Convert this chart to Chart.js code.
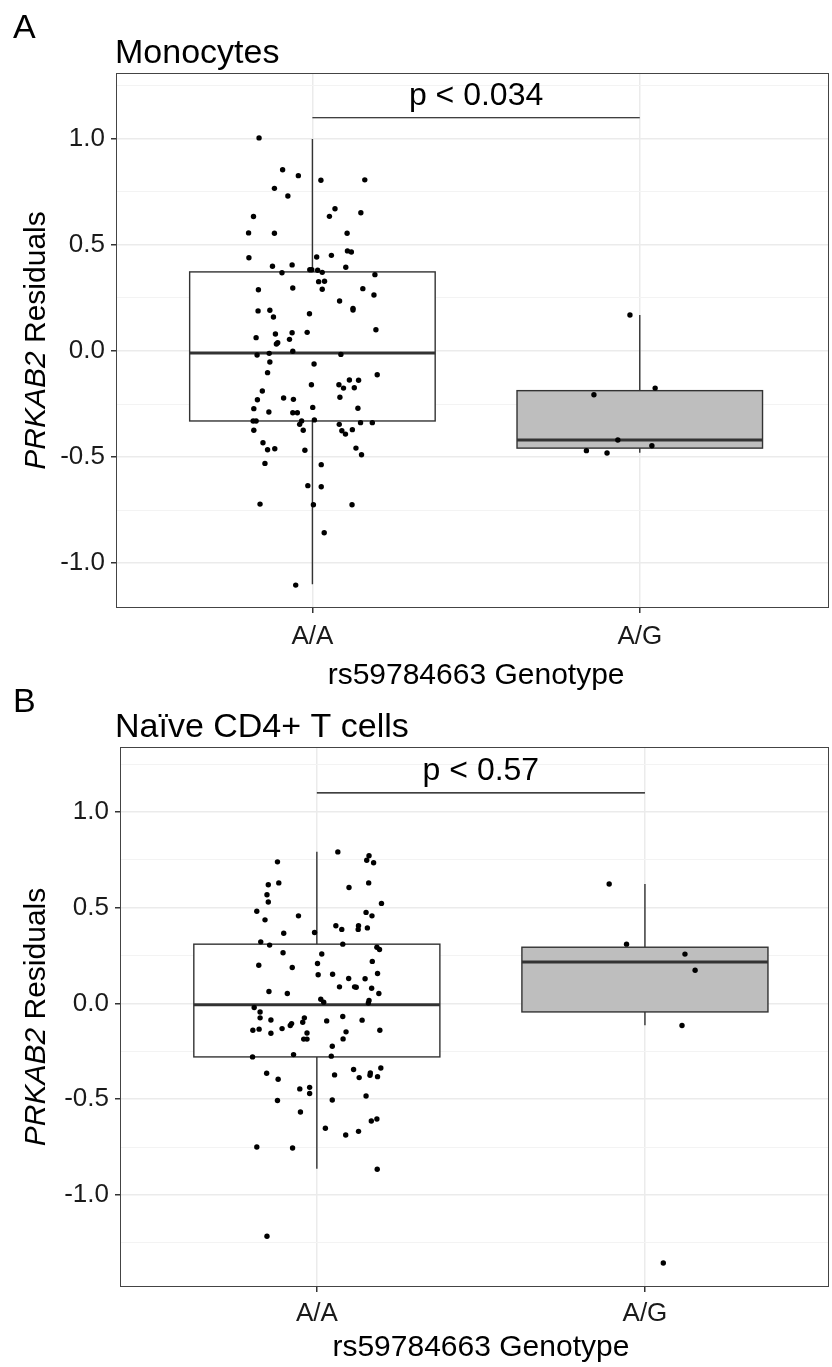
<!DOCTYPE html>
<html>
<head>
<meta charset="utf-8">
<script src="https://cdn.jsdelivr.net/npm/chart.js@4.4.1/dist/chart.umd.min.js"></script>
<style>
  html, body { margin: 0; padding: 0; background: #fff; }
  #wrap { position: relative; width: 832px; height: 1367px; }
  canvas { position: absolute; left: 0; }
</style>
</head>
<body>
<div id="wrap">
  <canvas id="monoChart" width="832" height="700" style="top:0"></canvas>
  <canvas id="naiveChart" width="832" height="684" style="top:683px"></canvas>
</div>
<script>
const genotypes = ['A/A', 'A/G'];
const xTitle = 'rs59784663 Genotype';

// Panel A - Monocytes
const monoAAJitter = [
  -0.163,-0.091,-0.043,0.026,0.160,-0.116,-0.075,0.069,0.148,0.052,
  -0.180,-0.195,-0.116,0.106,-0.194,0.013,0.058,0.107,0.119,-0.122,
  -0.062,0.102,-0.093,-0.008,-0.002,0.016,0.030,0.191,0.019,0.037,
  -0.165,-0.060,0.030,0.154,0.188,0.083,0.124,0.124,-0.166,-0.130,
  -0.119,-0.009,0.194,-0.113,-0.062,-0.016,-0.172,-0.070,-0.106,-0.110,
  -0.169,-0.132,-0.060,0.087,-0.130,0.005,-0.137,0.198,-0.003,0.081,
  0.113,0.141,0.095,0.128,-0.153,-0.168,-0.088,-0.058,0.084,-0.179,
  -0.133,-0.060,-0.046,0.001,0.139,-0.181,-0.172,-0.033,-0.039,0.006,
  0.082,0.147,0.183,-0.179,-0.028,0.090,0.101,0.122,-0.151,-0.137,
  -0.115,-0.023,0.133,0.150,-0.145,0.027,-0.014,0.027,-0.160,0.003,
  0.121,0.036,-0.051
];
const monoAAValues = [
  1.005,0.855,0.827,0.805,0.807,0.767,0.731,0.671,0.652,0.635,
  0.634,0.557,0.555,0.555,0.440,0.443,0.451,0.472,0.467,0.400,
  0.406,0.395,0.369,0.383,0.383,0.381,0.371,0.360,0.327,0.329,
  0.289,0.297,0.291,0.294,0.264,0.236,0.201,0.193,0.189,0.192,
  0.160,0.176,0.100,0.080,0.086,0.088,0.063,0.055,0.039,0.033,
  -0.019,-0.011,-0.001,-0.016,-0.052,-0.061,-0.102,-0.112,-0.159,-0.159,
  -0.137,-0.138,-0.175,-0.173,-0.189,-0.230,-0.222,-0.228,-0.218,-0.272,
  -0.288,-0.291,-0.291,-0.266,-0.270,-0.330,-0.330,-0.330,-0.346,-0.325,
  -0.346,-0.338,-0.338,-0.374,-0.374,-0.376,-0.392,-0.371,-0.433,-0.466,
  -0.461,-0.468,-0.458,-0.489,-0.530,-0.536,-0.635,-0.640,-0.722,-0.725,
  -0.725,-0.857,-1.104
];
const monoAGJitter = [-0.030,-0.140,0.047,-0.067,0.037,-0.163,-0.100];
const monoAGValues = [0.170,-0.206,-0.175,-0.420,-0.447,-0.470,-0.481];
// [lower whisker, q1, median, q3, upper whisker]
const monoBoxAA = [-1.100,-0.330,-0.010,0.373,1.000];
const monoBoxAG = [-0.480,-0.458,-0.420,-0.187,0.170];

// Panel B - Naive CD4+ T cells
const naiveAAJitter = [
  0.064,0.159,0.152,0.173,-0.120,-0.148,-0.116,0.158,0.098,-0.152,
  -0.148,0.197,-0.183,0.150,-0.158,-0.056,0.168,0.058,0.076,0.127,
  0.126,0.154,-0.101,-0.007,-0.171,-0.144,0.079,0.183,0.191,-0.103,
  0.015,-0.177,-0.075,0.002,0.169,0.004,0.048,0.097,0.147,0.185,
  0.069,0.115,0.120,0.167,-0.146,-0.090,0.189,0.012,0.021,0.159,
  0.157,-0.191,-0.173,-0.173,-0.140,-0.038,-0.043,0.079,0.030,0.138,
  -0.077,-0.081,-0.195,-0.176,-0.106,-0.140,-0.030,0.089,0.192,-0.040,
  -0.030,0.080,0.047,-0.196,-0.071,0.044,-0.153,-0.118,0.054,0.112,
  0.129,0.163,0.162,0.185,0.195,-0.052,-0.022,-0.022,-0.120,0.047,
  0.150,-0.050,0.166,0.183,0.026,0.088,0.127,-0.183,-0.074,0.184,
  -0.152
];
const naiveAAValues = [
  0.792,0.772,0.748,0.735,0.740,0.620,0.630,0.630,0.606,0.568,
  0.530,0.523,0.482,0.476,0.437,0.458,0.458,0.406,0.387,0.406,
  0.387,0.395,0.367,0.371,0.322,0.305,0.310,0.294,0.282,0.265,
  0.259,0.200,0.188,0.209,0.220,0.150,0.153,0.131,0.129,0.157,
  0.087,0.087,0.085,0.080,0.063,0.052,0.052,0.022,0.007,0.016,
  0.003,-0.021,-0.044,-0.075,-0.086,-0.075,-0.098,-0.068,-0.091,-0.087,
  -0.105,-0.115,-0.140,-0.134,-0.131,-0.155,-0.154,-0.148,-0.140,-0.186,
  -0.186,-0.185,-0.223,-0.279,-0.267,-0.275,-0.364,-0.396,-0.373,-0.345,
  -0.387,-0.363,-0.375,-0.382,-0.337,-0.446,-0.438,-0.470,-0.507,-0.504,
  -0.483,-0.567,-0.614,-0.603,-0.652,-0.687,-0.668,-0.750,-0.755,-0.866,
  -1.216
];
const naiveAGJitter = [-0.109,-0.056,0.122,0.153,0.113,0.056];
const naiveAGValues = [0.624,0.310,0.258,0.174,-0.115,-1.356];
const naiveBoxAA = [-0.863,-0.279,-0.007,0.310,0.793];
const naiveBoxAG = [-0.113,-0.044,0.217,0.294,0.624];

const pLabels = ['p < 0.034', 'p < 0.57'];
const bracketY = 1.1;

const FONT = '"Liberation Sans", Arial, Helvetica, sans-serif';

function toPoints(base, jitter, values) {
  return values.map((v, i) => ({ x: base + jitter[i], y: v }));
}

function isMajor(v) {
  return Math.abs(v * 2 - Math.round(v * 2)) < 1e-6;
}

// draws boxplots under the points, then frame, bracket and texts
function makePanelPlugin(panel) {
  return {
    id: 'panel_' + panel.letter,
    beforeDatasetsDraw(chart) {
      const ctx = chart.ctx;
      const xs = chart.scales.x, ys = chart.scales.y;
      panel.boxes.forEach((b, i) => {
        const cx = xs.getPixelForValue(i);
        const left = xs.getPixelForValue(i - 0.375);
        const right = xs.getPixelForValue(i + 0.375);
        const top = ys.getPixelForValue(b[3]);
        const bot = ys.getPixelForValue(b[1]);
        ctx.save();
        ctx.strokeStyle = '#333';
        ctx.lineWidth = 1.4;
        ctx.beginPath();
        ctx.moveTo(cx, top); ctx.lineTo(cx, ys.getPixelForValue(b[4]));
        ctx.moveTo(cx, bot); ctx.lineTo(cx, ys.getPixelForValue(b[0]));
        ctx.stroke();
        ctx.fillStyle = panel.fills[i];
        ctx.fillRect(left, top, right - left, bot - top);
        ctx.strokeRect(left, top, right - left, bot - top);
        const m = ys.getPixelForValue(b[2]);
        ctx.lineWidth = 3;
        ctx.beginPath();
        ctx.moveTo(left, m); ctx.lineTo(right, m);
        ctx.stroke();
        ctx.restore();
      });
    },
    afterDraw(chart) {
      const ctx = chart.ctx;
      const a = chart.chartArea;
      const xs = chart.scales.x, ys = chart.scales.y;
      ctx.save();
      // panel border
      ctx.strokeStyle = '#444';
      ctx.lineWidth = 1;
      ctx.strokeRect(a.left + 0.5, a.top + 0.5, a.right - a.left, a.bottom - a.top - 1);

      // significance bracket
      const by = ys.getPixelForValue(bracketY);
      ctx.strokeStyle = '#000';
      ctx.lineWidth = 1.2;
      ctx.beginPath();
      ctx.moveTo(xs.getPixelForValue(0), by);
      ctx.lineTo(xs.getPixelForValue(1), by);
      ctx.stroke();

      ctx.fillStyle = '#000';
      ctx.textBaseline = 'alphabetic';
      ctx.font = '32px ' + FONT;
      ctx.textAlign = 'center';
      ctx.fillText(panel.pText, xs.getPixelForValue(0.5), by - 13);

      // panel letter and title
      ctx.textAlign = 'left';
      ctx.font = '34px ' + FONT;
      ctx.fillText(panel.letter, 13, a.top - 35);
      ctx.fillText(panel.title, 115, a.top - 10);

      // x axis title
      ctx.textAlign = 'center';
      ctx.font = '30px ' + FONT;
      ctx.fillText(xTitle, xs.getPixelForValue(0.5), a.bottom + panel.xTitleGap);

      // y axis title, gene name in italics
      const italic = 'italic 30px ' + FONT;
      const plain = '30px ' + FONT;
      ctx.font = italic;
      const w1 = ctx.measureText('PRKAB2').width;
      ctx.font = plain;
      const w2 = ctx.measureText(' Residuals').width;
      ctx.translate(45, (a.top + a.bottom) / 2);
      ctx.rotate(-Math.PI / 2);
      ctx.textAlign = 'left';
      ctx.font = italic;
      ctx.fillText('PRKAB2', -(w1 + w2) / 2, 0);
      ctx.font = plain;
      ctx.fillText(' Residuals', -(w1 + w2) / 2 + w1, 0);
      ctx.restore();
    }
  };
}

function buildChart(canvasId, panel) {
  const h = document.getElementById(canvasId).height;
  return new Chart(document.getElementById(canvasId), {
    type: 'scatter',
    data: {
      datasets: [
        {
          label: genotypes[0],
          data: toPoints(0, panel.aaJitter, panel.aaValues),
          backgroundColor: '#000',
          borderWidth: 0,
          pointRadius: 2.7
        },
        {
          label: genotypes[1],
          data: toPoints(1, panel.agJitter, panel.agValues),
          backgroundColor: '#000',
          borderWidth: 0,
          pointRadius: 2.7
        }
      ]
    },
    options: {
      responsive: false,
      animation: false,
      devicePixelRatio: 1,
      layout: { padding: { top: panel.top, right: 1, bottom: 0, left: 0 } },
      plugins: {
        legend: { display: false },
        tooltip: { enabled: false },
        title: { display: false }
      },
      scales: {
        x: {
          type: 'linear',
          min: -0.6,
          max: panel.xMax,
          afterBuildTicks: (scale) => { scale.ticks = [{ value: 0 }, { value: 1 }]; },
          afterFit: (scale) => { scale.height = h - panel.bottom; },
          ticks: {
            padding: panel.xTickPad,
            color: '#1a1a1a',
            font: { family: FONT, size: 26 },
            maxRotation: 0,
            callback: (v) => genotypes[v]
          },
          grid: {
            color: '#ebebeb',
            lineWidth: 1.5,
            tickLength: 5,
            tickColor: '#333'
          },
          border: { display: false }
        },
        y: {
          min: panel.yMin,
          max: panel.yMax,
          afterFit: (scale) => { scale.width = panel.left; },
          ticks: {
            stepSize: 0.25,
            includeBounds: false,
            padding: 6,
            color: '#1a1a1a',
            font: { family: FONT, size: 26 },
            callback: (v) => {
              if (!isMajor(v)) return '';
              const r = Math.round(v * 10) / 10;
              return (r === 0 ? 0 : r).toFixed(1);
            }
          },
          grid: {
            color: (c) => (c.tick && isMajor(c.tick.value)) ? '#ebebeb' : '#f3f3f3',
            lineWidth: (c) => (c.tick && isMajor(c.tick.value)) ? 1.5 : 1,
            tickLength: 5,
            tickColor: (c) => (c.tick && isMajor(c.tick.value)) ? '#333' : 'rgba(0,0,0,0)'
          },
          border: { display: false }
        }
      }
    },
    plugins: [makePanelPlugin(panel)]
  });
}

buildChart('monoChart', {
  letter: 'A', title: 'Monocytes', pText: pLabels[0],
  aaJitter: monoAAJitter, aaValues: monoAAValues,
  agJitter: monoAGJitter, agValues: monoAGValues,
  boxes: [monoBoxAA, monoBoxAG], fills: ['#ffffff', '#bebebe'],
  yMin: -1.212, yMax: 1.311, xMax: 1.575,
  top: 73, bottom: 608, left: 116, xTickPad: 8, xTitleGap: 76
});

buildChart('naiveChart', {
  letter: 'B', title: 'Naïve CD4+ T cells', pText: pLabels[1],
  aaJitter: naiveAAJitter, aaValues: naiveAAValues,
  agJitter: naiveAGJitter, agValues: naiveAGValues,
  boxes: [naiveBoxAA, naiveBoxAG], fills: ['#ffffff', '#bebebe'],
  yMin: -1.481, yMax: 1.340, xMax: 1.558,
  top: 64, bottom: 604, left: 120, xTickPad: 6, xTitleGap: 69
});
</script>
</body>
</html>
